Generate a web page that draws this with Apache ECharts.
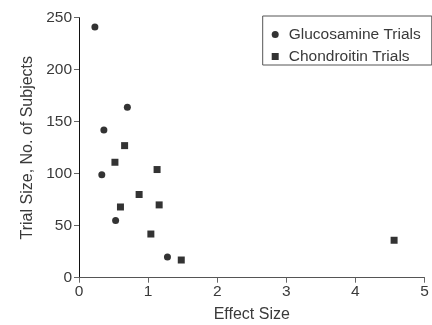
<!DOCTYPE html>
<html><head><meta charset="utf-8">
<script src="https://cdn.jsdelivr.net/npm/echarts@6/dist/echarts.min.js"></script>
<style>html,body{margin:0;padding:0;background:#fff}#c{width:432px;height:325px}</style>
</head><body><div id="c"></div>
<script>
var glucosamineEffect = [0.23, 0.70, 0.36, 0.33, 0.53, 1.28];
var glucosamineSubjects = [241, 164, 142, 99, 55, 20];
var chondroitinEffect = [0.66, 0.52, 1.13, 0.87, 0.60, 1.16, 1.04, 1.48, 4.56];
var chondroitinSubjects = [127, 111, 104, 80, 68, 70, 42, 17, 36];
var seriesNames = ['Glucosamine Trials', 'Chondroitin Trials'];
var xTitle = 'Effect Size';
var yTitle = 'Trial Size, No. of Subjects';

function pairs(xs, ys){ return xs.map(function(x,i){ return [x, ys[i]]; }); }
var font = 'Liberation Sans';
var textColor = '#3a3a3a';
var squarePath = 'path://M0,0L10,0L10,10L0,10Z';
var chart = echarts.init(document.getElementById('c'), null, {renderer:'canvas'});
chart.setOption({
  animation: false,
  textStyle: {fontFamily: font},
  grid: {left: 79, right: 7.5, top: 17.7, bottom: 47.3, containLabel: false, outerBoundsMode: 'none'},
  legend: {
    orient: 'vertical', left: 262.7, top: 16,
    padding: [10.5, 11, 0.5, 9], itemGap: 6,
    borderColor: '#555', borderWidth: 1,
    itemWidth: 17, itemHeight: 7, symbolKeepAspect: true,
    textStyle: {fontFamily: font, fontSize: 15.5, color: textColor},
    data: [{name: seriesNames[0], icon: 'circle'}, {name: seriesNames[1], icon: squarePath}]
  },
  xAxis: {
    type: 'value', min: 0, max: 5, interval: 1,
    name: xTitle, nameLocation: 'middle', nameGap: 29,
    nameTextStyle: {fontFamily: font, fontSize: 16, color: textColor},
    axisLine: {show: true, onZero: false, lineStyle: {color: '#555', width: 1}},
    axisTick: {show: true, inside: false, length: 5, lineStyle: {color: '#666'}},
    axisLabel: {fontFamily: font, fontSize: 15.5, color: textColor, margin: 6},
    splitLine: {show: false}
  },
  yAxis: {
    type: 'value', min: 0, max: 250, interval: 50,
    name: yTitle, nameLocation: 'middle', nameGap: 42,
    nameTextStyle: {fontFamily: font, fontSize: 16, color: textColor},
    axisLine: {show: true, onZero: false, lineStyle: {color: '#111', width: 1}},
    axisTick: {show: true, inside: false, length: 5, lineStyle: {color: '#666'}},
    axisLabel: {fontFamily: font, fontSize: 15.5, color: textColor, margin: 7},
    splitLine: {show: false}
  },
  series: [
    {name: seriesNames[0], type: 'scatter', symbol: 'circle', symbolSize: 7,
     itemStyle: {color: '#000'}, data: pairs(glucosamineEffect, glucosamineSubjects)},
    {name: seriesNames[1], type: 'scatter', symbol: 'rect', symbolSize: 7,
     itemStyle: {color: '#000'}, data: pairs(chondroitinEffect, chondroitinSubjects)}
  ]
});
</script></body></html>
